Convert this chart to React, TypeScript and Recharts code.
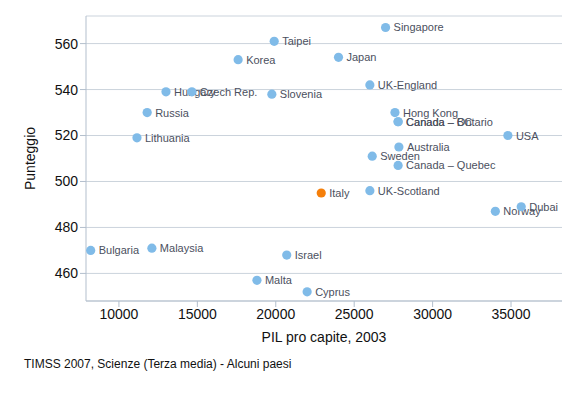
import React from "react";
import { ScatterChart, Scatter, XAxis, YAxis, CartesianGrid } from "recharts";

// Countries, GDP per capita (2003) and TIMSS 2007 science score
const countries = [
    "Singapore", "Taipei", "Korea", "Japan", "UK-England", "Hungary", "Czech Rep.",
    "Slovenia", "Russia", "Lithuania", "Hong Kong", "Canada – BC", "Canada – Ontario",
    "USA", "Australia", "Sweden", "Canada – Quebec", "UK-Scotland", "Italy", "Norway",
    "Dubai", "Bulgaria", "Malaysia", "Israel", "Malta", "Cyprus",
];
const gdp = [
    27000, 19900, 17600, 24000, 26000, 13000, 14650,
    19750, 11800, 11150, 27600, 27800, 27800,
    34800, 27850, 26150, 27800, 26000, 22900, 34000,
    35650, 8200, 12100, 20700, 18800, 22000,
];
const score = [
    567, 561, 553, 554, 542, 539, 539,
    538, 530, 519, 530, 526, 526,
    520, 515, 511, 507, 496, 495, 487,
    489, 470, 471, 468, 457, 452,
];
const highlight = "Italy";

const xTicks = [10000, 15000, 20000, 25000, 30000, 35000];
const yTicks = [460, 480, 500, 520, 540, 560];

const FONT = 'Arial, "Liberation Sans", sans-serif';
const AXIS = "#b3bfcd";
const GRID = "#cbd3dc";
const BLUE = "#80bbe8";
const ORANGE = "#f57f0a";

const points = countries.map((name, i) => ({ name, gdp: gdp[i], score: score[i] }));

// dot + country name to its right
const PointShape = (props: any) => {
    const { cx, cy, payload } = props;
    const isHi = payload.name === highlight;
    return (
        <g>
            <circle cx={cx} cy={cy} r={4.6} fill={isHi ? ORANGE : BLUE} />
            <text x={cx + 8} y={cy + 4} fontSize={11} fontFamily={FONT} fill="#4b505e">
                {payload.name}
            </text>
        </g>
    );
};

export default function App() {
    return (
        <div style={{ position: "absolute", left: 0, top: 0, width: 578, height: 396, background: "#fff" }}>
            <ScatterChart width={578} height={396} margin={{ top: 16, right: 16, bottom: 45, left: 0 }}>
                <CartesianGrid vertical={false} stroke={GRID} />
                <XAxis
                    type="number"
                    dataKey="gdp"
                    domain={[7900, 38250]}
                    ticks={xTicks}
                    height={50}
                    stroke={AXIS}
                    tickSize={6}
                    tick={{ fontSize: 14, fill: "#111", fontFamily: FONT }}
                    label={{ value: "PIL pro capite, 2003", position: "insideBottom", offset: 9, fontSize: 14, fill: "#111", fontFamily: FONT }}
                />
                <YAxis
                    type="number"
                    dataKey="score"
                    domain={[448, 572]}
                    ticks={yTicks}
                    width={86}
                    stroke={AXIS}
                    tickSize={6}
                    tick={{ fontSize: 14, fill: "#111", fontFamily: FONT }}
                    label={{ value: "Punteggio", angle: -90, position: "insideLeft", offset: 30, fontSize: 14, fill: "#111", fontFamily: FONT, style: { textAnchor: "middle" } }}
                />
                <Scatter data={points} shape={<PointShape />} isAnimationActive={false} />
            </ScatterChart>
            <div style={{ position: "absolute", left: 24, top: 357, fontSize: 12, fontFamily: FONT, color: "#111" }}>
                TIMSS 2007, Scienze (Terza media) - Alcuni paesi
            </div>
        </div>
    );
}
